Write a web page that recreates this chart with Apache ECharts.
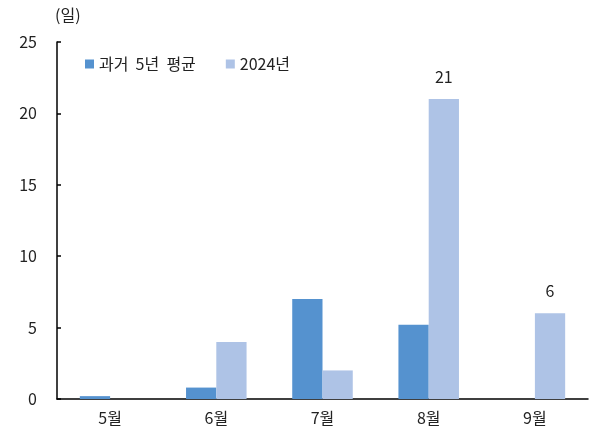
<!DOCTYPE html>
<html>
<head>
<meta charset="utf-8">
<script src="https://cdn.jsdelivr.net/npm/echarts@6/dist/echarts.min.js"></script>
<style>
  html, body { margin: 0; padding: 0; background: #fff; }
  #chart { width: 592px; height: 448px; }
</style>
</head>
<body>
<div id="chart"></div>
<script>
  // 월별 일수
  var months = ['5월', '6월', '7월', '8월', '9월'];
  var past5yAvg = [0.2, 0.8, 7.0, 5.2, 0];
  var y2024 = [0, 4, 2, 21, 6];
  var labelIdx = [3, 4]; // 값 표시하는 막대
  var seriesNames = ['과거 5년 평균', '2024년'];

  var font = '"Noto Sans CJK KR", "Noto Sans", sans-serif';

  var data2024 = [];
  for (var i = 0; i < y2024.length; i++) {
    data2024.push({
      value: y2024[i],
      label: { show: labelIdx.indexOf(i) >= 0 }
    });
  }

  var chart = echarts.init(document.getElementById('chart'));
  chart.setOption({
    animation: false,
    textStyle: { fontFamily: font },
    grid: { left: 57, right: 4, top: 42, bottom: 49 },
    legend: {
      left: 80,
      top: 51,
      itemWidth: 9,
      itemHeight: 9,
      itemGap: 30,
      icon: 'rect',
      formatter: function (name) { return name.replace(/ /g, '  '); },
      textStyle: { fontSize: 16, color: '#222', fontFamily: font },
      data: seriesNames
    },
    graphic: [{
      type: 'text',
      left: 55,
      top: 7,
      style: { text: '(일)', fontSize: 16, fill: '#222', fontFamily: font }
    }],
    xAxis: [{
      type: 'category',
      data: months,
      axisLine: { lineStyle: { color: '#000', width: 1.5 } },
      axisTick: { inside: true, length: 6, lineStyle: { color: '#000', width: 1.5 } },
      axisLabel: { fontSize: 16, color: '#222', margin: 11, fontFamily: font }
    }, {
      type: 'category',
      data: months,
      position: 'bottom',
      axisLine: { show: false },
      axisTick: { alignWithLabel: true, length: 3, lineStyle: { color: '#000', width: 1.5 } },
      axisLabel: { show: false }
    }],
    yAxis: {
      type: 'value',
      min: 0,
      max: 25,
      interval: 5,
      axisLine: { show: true, lineStyle: { color: '#000', width: 1.5 } },
      axisTick: { show: true, inside: true, length: 4, lineStyle: { color: '#000', width: 1.5 } },
      splitLine: { show: false },
      axisLabel: { fontSize: 16, color: '#222', margin: 20, fontFamily: font }
    },
    series: [{
      name: seriesNames[0],
      type: 'bar',
      data: past5yAvg,
      barGap: '0%',
      barCategoryGap: '43%',
      itemStyle: { color: '#5592CF' }
    }, {
      name: seriesNames[1],
      type: 'bar',
      data: data2024,
      barGap: '0%',
      barCategoryGap: '43%',
      itemStyle: { color: '#AEC3E6' },
      label: { position: 'top', distance: 14, fontSize: 16, color: '#222', fontFamily: font }
    }]
  });
</script>
</body>
</html>
